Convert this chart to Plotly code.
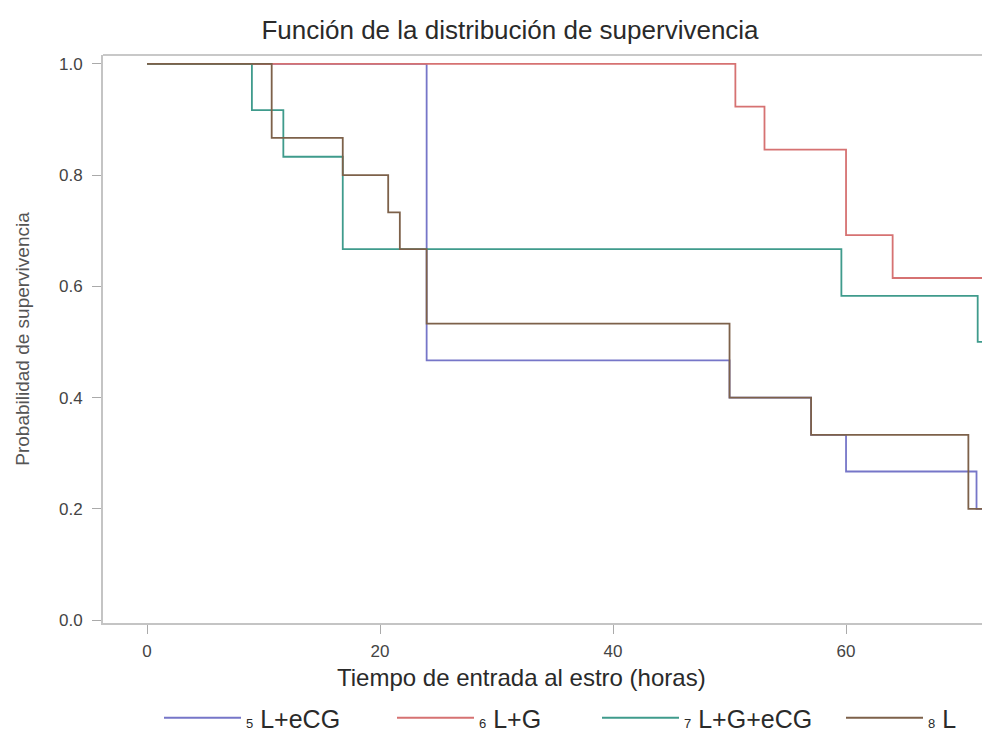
import plotly.graph_objects as go

# Kaplan-Meier step data (time in hours, survival probability)
t5 = [0, 24, 50, 57, 60, 71.2, 74]
s5 = [1.0, 0.467, 0.4, 0.333, 0.267, 0.2, 0.2]

t6 = [0, 50.5, 53, 60, 64, 74]
s6 = [1.0, 0.923, 0.846, 0.692, 0.615, 0.615]

t7 = [0, 9, 11.7, 16.8, 59.6, 71.3, 74]
s7 = [1.0, 0.917, 0.833, 0.667, 0.583, 0.5, 0.5]

t8 = [0, 10.7, 16.8, 20.7, 21.7, 24, 50, 57, 70.5, 74]
s8 = [1.0, 0.867, 0.8, 0.733, 0.667, 0.533, 0.4, 0.333, 0.2, 0.2]

groups = ["5", "6", "7", "8"]
names = ["L+eCG", "L+G", "L+G+eCG", "L"]
colors = ["#7676c8", "#d67272", "#3f9b8c", "#7d614a"]
series = [(t5, s5), (t6, s6), (t7, s7), (t8, s8)]

xticks = [0, 20, 40, 60]
yticks = [0.0, 0.2, 0.4, 0.6, 0.8, 1.0]

FONT = "Liberation Sans, Arial, sans-serif"
W, H = 982, 738
L, R, T, B = 103, 0, 55, 115
PW, PH = W - L - R, H - T - B
legend_ids = ["legend", "legend2", "legend3", "legend4"]
legend_px = [159, 392, 597, 841]

fig = go.Figure()
for g, n, c, (t, s), lid in zip(groups, names, colors, series, legend_ids):
    fig.add_trace(go.Scatter(
        x=t, y=s, mode="lines", line_shape="hv",
        line=dict(color=c, width=1.8),
        name=f"<span style='font-size:13px'>{g}</span> {n}",
        legend=lid, showlegend=True,
    ))

layout_legends = {}
for lid, px in zip(legend_ids, legend_px):
    layout_legends[lid] = dict(
        orientation="h", xref="container", x=px / W, xanchor="left",
        yref="container", y=20 / H, yanchor="middle",
        font=dict(size=25, color="#2a2a2a", family=FONT), itemwidth=77,
        bgcolor="rgba(0,0,0,0)", visible=True)

fig.update_layout(
    width=W, height=H,
    showlegend=True,
    margin=dict(l=L, r=R, t=T, b=B, autoexpand=False),
    paper_bgcolor="white", plot_bgcolor="white",
    font=dict(family=FONT, color="#333"),
    title=dict(text="Función de la distribución de supervivencia",
               x=510 / W, xanchor="center", y=1 - 30 / H, yanchor="middle",
               font=dict(size=26, color="#2a2a2a")),
    xaxis=dict(range=[-3.78, 71.67], tickvals=xticks, ticks="outside", ticklen=9,
               tickcolor="#aaa", showline=True, linecolor="#c4c4c4", linewidth=1.8,
               showgrid=False, zeroline=False, tickfont=dict(size=17, color="#444"),
               ticklabelstandoff=3, automargin=False),
    yaxis=dict(range=[-0.0054, 1.016], tickvals=yticks, tickformat=".1f",
               ticks="outside", ticklen=9, tickcolor="#aaa",
               showline=True, linecolor="#c4c4c4", linewidth=1.8,
               showgrid=False, zeroline=False, tickfont=dict(size=17, color="#444"),
               ticklabelstandoff=6, automargin=False,
               title=dict(text="Probabilidad de supervivencia",
                          font=dict(size=19, color="#555"), standoff=24)),
    annotations=[dict(text="Tiempo de entrada al estro (horas)",
                      xref="paper", yref="paper",
                      x=(521 - L) / PW, y=-(677 - (H - B)) / PH,
                      xanchor="center", yanchor="middle", showarrow=False,
                      font=dict(size=24, color="#2a2a2a"))],
    shapes=[dict(type="line", xref="paper", yref="paper", x0=0, x1=1, y0=1, y1=1,
                 line=dict(color="#c8c8c8", width=1.8))],
    **layout_legends,
)

fig.write_html("out.html", config={"displayModeBar": False},
               post_script="document.body.style.margin='0';document.body.style.overflow='hidden';")
